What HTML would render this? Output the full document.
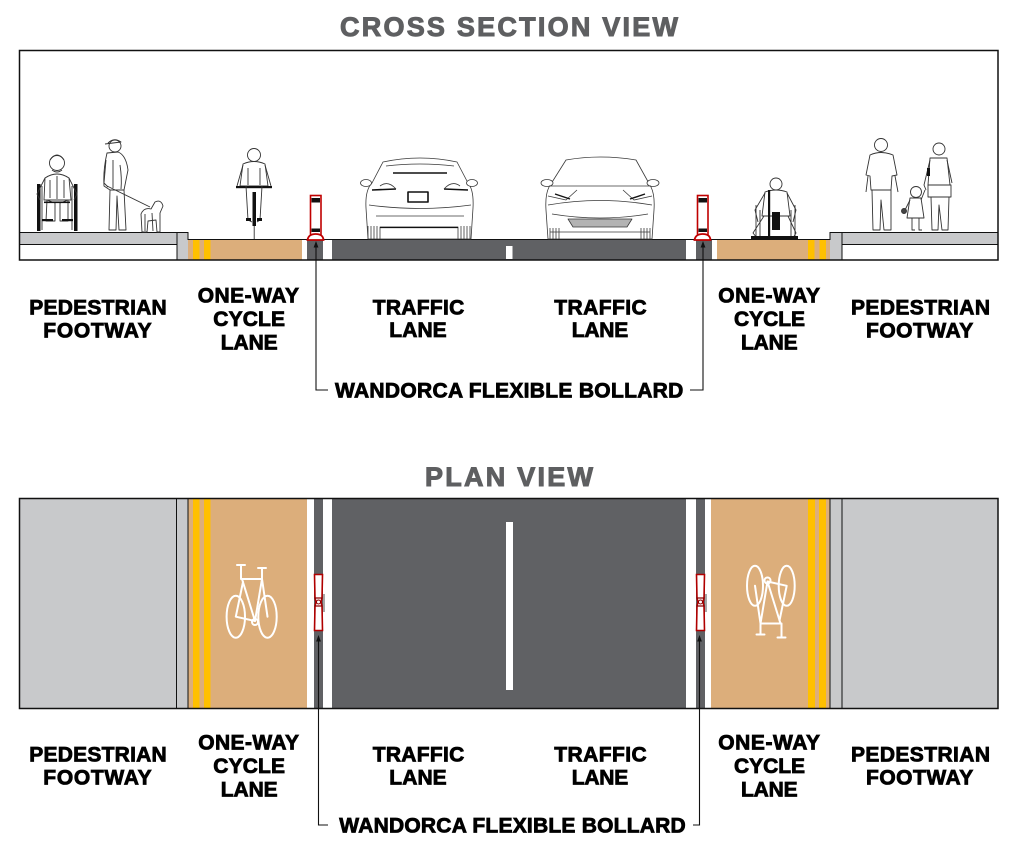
<!DOCTYPE html>
<html><head><meta charset="utf-8"><style>
html,body{margin:0;padding:0;background:#fff;}
svg{display:block;}
text{font-family:"Liberation Sans",Arial,sans-serif;font-weight:bold;}
</style></head><body>
<svg width="1020" height="851" viewBox="0 0 1020 851" xmlns="http://www.w3.org/2000/svg">
<rect width="1020" height="851" fill="#fff"/>

<!-- TITLES -->
<text x="340" y="36" font-size="27" fill="#5e5f61" stroke="#5e5f61" stroke-width="1" textLength="338" lengthAdjust="spacing">CROSS SECTION VIEW</text>
<text x="425" y="486" font-size="27" fill="#5e5f61" stroke="#5e5f61" stroke-width="1" textLength="168" lengthAdjust="spacing">PLAN VIEW</text>

<!-- ============ CROSS SECTION ============ -->
<rect x="19" y="232" width="158" height="12" fill="#c8c9cb"/>
<rect x="177" y="232" width="11" height="28" fill="#c8c9cb"/>
<rect x="188" y="239" width="114" height="21" fill="#dcae7b"/>
<rect x="193" y="239" width="6.5" height="21" fill="#ffc000"/>
<rect x="204" y="239" width="6.5" height="21" fill="#ffc000"/>
<rect x="307" y="239" width="16" height="21" fill="#606164"/>
<rect x="332" y="239" width="354" height="21" fill="#606164"/>
<rect x="506" y="246" width="6.5" height="13" fill="#fff"/>
<rect x="696" y="239" width="16" height="21" fill="#606164"/>
<rect x="717" y="239" width="113" height="21" fill="#dcae7b"/>
<rect x="808" y="239" width="6.5" height="21" fill="#ffc000"/>
<rect x="819.5" y="239" width="6.5" height="21" fill="#ffc000"/>
<rect x="830" y="232" width="12" height="28" fill="#c8c9cb"/>
<rect x="842" y="232" width="156" height="12" fill="#c8c9cb"/>
<g stroke="#111" stroke-width="1" fill="none">
<path d="M19 232.5 H188 V239.5 H830 V232.5 H998"/>
<path d="M19 244.5 H177"/>
<path d="M177 232.5 V260"/>
<path d="M842 244.5 H998"/>
<path d="M842 232.5 V260"/>
</g>

<!-- bollards cross section -->
<g>
<rect x="310.5" y="195.5" width="10.5" height="40" fill="#fff" stroke="#c00000" stroke-width="1.6"/>
<rect x="311.5" y="198" width="8.5" height="4.5" fill="#111"/>
<rect x="311.5" y="228.5" width="8.5" height="3.5" fill="#111"/>
<path d="M307.5 240 Q308.5 234 315.7 234 Q323 234 323.5 240 Z" fill="#fff" stroke="#c00000" stroke-width="1.8"/>
</g>
<g>
<rect x="697.5" y="195.5" width="10.5" height="40" fill="#fff" stroke="#c00000" stroke-width="1.6"/>
<rect x="698.5" y="198" width="8.5" height="4.5" fill="#111"/>
<rect x="698.5" y="228.5" width="8.5" height="3.5" fill="#111"/>
<path d="M694.5 240 Q695.5 234 702.7 234 Q710 234 710.5 240 Z" fill="#fff" stroke="#c00000" stroke-width="1.8"/>
</g>

<!-- PEOPLE -->
<g stroke="#333" stroke-width="0.9" fill="#fff" stroke-linejoin="round">
<!-- wheelchair user -->
<rect x="37" y="184" width="3.5" height="47" fill="#111" stroke="none"/>
<rect x="74" y="184" width="3.5" height="47" fill="#111" stroke="none"/>
<path d="M42 186 V230 M72 186 V230" fill="none"/>
<path d="M45 178 Q57 170 69 178 L71 200 L44 200 Z"/>
<path d="M50 180 V198 M64 180 V198 M57 176 V199" fill="none"/>
<path d="M45 178 L37 194 L40 200 M69 178 L77 194 L74 200" fill="none"/>
<circle cx="57" cy="163" r="7.5"/>
<path d="M50 160 Q57 150 64 160 M52 170 Q57 174 62 170" fill="none"/>
<path d="M47 200 L46 221 L55 221 L55 203 Z M60 203 L60 221 L68 221 L68 200 Z"/>
<rect x="42" y="219" width="11" height="2.2" fill="#111" stroke="none"/>
<rect x="62" y="219" width="11" height="2.2" fill="#111" stroke="none"/>
<rect x="44" y="201.5" width="26" height="1.6" fill="#111" stroke="none"/>

<!-- standing man -->
<path d="M107 153 Q103 170 104 186 L110 190 L124 190 L128 170 Q126 155 118 152 Z"/>
<path d="M110 190 L109 230 L116 230 L117 196 L119 230 L126 230 L124 190 Z"/>
<path d="M113 160 V188 M120 165 Q122 178 121 189" fill="none"/>
<circle cx="115" cy="146" r="6"/>
<path d="M108 143 Q114 137 121 142 L105 144" fill="none"/>
<path d="M106 160 L104 183 L108 187" fill="none"/>
<path d="M107 186 L150 207" fill="none"/>
<!-- dog -->
<path d="M142 232 L141 214 Q144 207 151 209 L155 202 Q161 199 163 206 L160 213 L160 232 L157 232 L156 220 L148 221 L147 232 Z"/>
<path d="M145 214 V231 M152 213 L153 231" fill="none"/>

<!-- cyclist -->
<rect x="252.5" y="192" width="3.5" height="34" fill="#111" stroke="none"/>
<path d="M254.2 226 V239" fill="none"/>
<path d="M243 164 Q254 159 265 164 L268 186 L240 186 Z"/>
<path d="M248 168 V185 M260 168 V185" fill="none"/>
<path d="M243 165 L237 186 M265 165 L271 186" fill="none"/>
<rect x="236" y="186" width="36" height="2.2" fill="#111" stroke="none"/>
<path d="M246 186 L248 220 L252 222 M262 186 L260 220 L257 222" fill="none"/>
<rect x="246" y="218" width="5" height="3" fill="#111" stroke="none"/>
<rect x="257" y="218" width="5" height="3" fill="#111" stroke="none"/>
<circle cx="254" cy="155" r="6.5"/>

<!-- handcyclist -->
<path d="M765 192 Q776 188 787 192 L790 216 L762 216 Z"/>
<path d="M765 193 L755 210 L758 222 M787 193 L796 210 L793 222" fill="none"/>
<path d="M764 216 L753 233 L757 238 M788 216 L796 233 L793 238" fill="none"/>
<rect x="768" y="190" width="2.2" height="48" fill="#111" stroke="none"/>
<rect x="772" y="212" width="8" height="18" fill="#111" stroke="none"/>
<path d="M756 205 V236 M795 205 V236 M760 210 V236 M791 210 V236" fill="none"/>
<rect x="751" y="236" width="47" height="3" fill="#111" stroke="none"/>
<circle cx="776" cy="184" r="6"/>

<!-- walking man -->
<path d="M870 155 Q881 150 893 155 L897 175 L892 176 L891 190 L871 190 L870 176 L866 175 Z"/>
<path d="M868 176 L866 192 M895 176 L898 192" fill="none"/>
<path d="M872 190 L873 230 L880 230 L881 200 L884 230 L891 230 L891 190 Z"/>
<circle cx="881" cy="145" r="6.5"/>
<!-- woman -->
<path d="M930 158 L947 158 L950 185 L928 185 Z"/>
<path d="M928 185 L951 185 L951 197 L928 197 Z"/>
<path d="M930 160 L924 185 L926 190 M947 160 L952 183" fill="none"/>
<path d="M931 197 L932 230 L938 230 L939 205 L942 230 L948 230 L949 197 Z"/>
<circle cx="939" cy="149" r="6"/>
<rect x="927" y="168" width="3" height="8" fill="#111" stroke="none"/>
<!-- child -->
<path d="M910 198 L921 198 L924 218 L907 218 Z"/>
<path d="M921 200 L925 190 M910 200 L905 210" fill="none"/>
<path d="M912 218 L912 230 L915 230 M919 218 L919 230 L922 230" fill="none"/>
<circle cx="916" cy="192" r="5.5"/>
<circle cx="904" cy="211" r="2.5" fill="#444"/>
</g>

<!-- CARS -->
<g stroke="#3a3a3a" stroke-width="0.8" fill="#fff" stroke-linejoin="round">
<path d="M383 162 Q420 154 457 162 L468 183 Q474 190 473 208 L471 239 L368 239 L366 208 Q365 190 372 183 Z"/>
<ellipse cx="366" cy="183" rx="5.5" ry="3.5"/>
<ellipse cx="472" cy="183" rx="5.5" ry="3.5"/>
<path d="M393 173 H447" stroke="#111" stroke-width="1.4" fill="none"/>
<path d="M386 166 Q420 162 454 166" fill="none"/>
<path d="M372 190 L396 189 M444 189 L468 190" stroke="#111" stroke-width="1.6" fill="none"/>
<path d="M380 186 Q388 180 396 189 M460 186 Q452 180 444 189" fill="none"/>
<path d="M369 205 Q420 212 471 205" fill="none"/>
<path d="M376 216 H464" fill="none"/>
<rect x="408" y="192" width="20" height="10" stroke="#111" stroke-width="1.6"/>
<rect x="380" y="227" width="78" height="12"/>
<path d="M380 227.5 H458" stroke="#111" stroke-width="1.3"/>
<path d="M368 226 V239 M371 226 V239 M374 226 V239 M377 226 V239 M461 226 V239 M464 226 V239 M467 226 V239 M470 226 V239" fill="none"/>

<path d="M566 160 Q600 154 636 160 L651 187 Q655 195 654 210 L652 239 L548 239 L546 210 Q545 195 549 187 Z"/>
<ellipse cx="547" cy="183" rx="6" ry="3.5"/>
<ellipse cx="653" cy="183" rx="6" ry="3.5"/>
<path d="M549 186 H651" fill="none"/>
<path d="M548 196 L566 200 L577 190 M652 196 L634 200 L623 190" fill="none"/>
<path d="M555 194 L570 199 M645 194 L630 199" stroke="#111" stroke-width="1.4" fill="none"/>
<path d="M548 205 Q600 196 652 205" fill="none"/>
<path d="M552 214 Q600 222 648 214" fill="none"/>
<path d="M568 219 L632 219 L627 227 L573 227 Z" fill="#b3b3b3"/>
<path d="M550 232 H650" fill="none"/>
<path d="M550 228 V239 M553 228 V239 M556 228 V239 M559 228 V239 M641 228 V239 M644 228 V239 M647 228 V239 M650 228 V239" fill="none"/>
</g>

<rect x="19.5" y="50.5" width="978.5" height="209.5" fill="none" stroke="#111" stroke-width="1.5"/>

<g stroke="#111" stroke-width="1.1" fill="none">
<path d="M316 246 V390 H328"/>
<path d="M703 246 V390 H690"/>
</g>
<polygon points="316,241 313.6,247.5 318.4,247.5" fill="#111"/>
<polygon points="703,241 700.6,247.5 705.4,247.5" fill="#111"/>

<g font-size="21" fill="#000" stroke="#000" stroke-width="0.8">
<text x="29.3" y="314.3" textLength="137.4" lengthAdjust="spacing">PEDESTRIAN</text>
<text x="43.3" y="337.7" textLength="108.4" lengthAdjust="spacing">FOOTWAY</text>
<text x="197.7" y="302.3" textLength="101.3" lengthAdjust="spacing">ONE-WAY</text>
<text x="213.3" y="326" textLength="71.7" lengthAdjust="spacing">CYCLE</text>
<text x="220.7" y="349.3" textLength="57" lengthAdjust="spacing">LANE</text>
<text x="372.7" y="314.3" textLength="91.6" lengthAdjust="spacing">TRAFFIC</text>
<text x="389.3" y="336.9" textLength="57.4" lengthAdjust="spacing">LANE</text>
<text x="554.3" y="314.3" textLength="92.4" lengthAdjust="spacing">TRAFFIC</text>
<text x="571.7" y="336.9" textLength="56.6" lengthAdjust="spacing">LANE</text>
<text x="718.3" y="302.3" textLength="101.7" lengthAdjust="spacing">ONE-WAY</text>
<text x="734" y="326" textLength="71" lengthAdjust="spacing">CYCLE</text>
<text x="741" y="349.3" textLength="56.7" lengthAdjust="spacing">LANE</text>
<text x="851" y="314.3" textLength="139" lengthAdjust="spacing">PEDESTRIAN</text>
<text x="866" y="337.7" textLength="107.3" lengthAdjust="spacing">FOOTWAY</text>
<text x="335" y="397.3" textLength="348.3" lengthAdjust="spacing">WANDORCA FLEXIBLE BOLLARD</text>
</g>

<!-- ============ PLAN VIEW ============ -->
<rect x="19" y="498" width="157" height="211" fill="#c8c9cb"/>
<rect x="176" y="498" width="12" height="211" fill="#c8c9cb"/>
<rect x="188" y="498" width="119" height="211" fill="#dcae7b"/>
<rect x="193" y="498" width="6.5" height="211" fill="#ffc000"/>
<rect x="204" y="498" width="6.5" height="211" fill="#ffc000"/>
<rect x="314" y="498" width="9" height="211" fill="#606164"/>
<rect x="332" y="498" width="354" height="211" fill="#606164"/>
<rect x="506" y="522" width="7" height="168" fill="#fff"/>
<rect x="696" y="498" width="9" height="211" fill="#606164"/>
<rect x="711" y="498" width="119" height="211" fill="#dcae7b"/>
<rect x="808" y="498" width="7" height="211" fill="#ffc000"/>
<rect x="819" y="498" width="7" height="211" fill="#ffc000"/>
<rect x="830" y="498" width="12" height="211" fill="#c8c9cb"/>
<rect x="842" y="498" width="156" height="211" fill="#c8c9cb"/>
<g stroke="#111" stroke-width="1">
<path d="M176.5 498 V709 M188 498 V709 M830 498 V709 M842 498 V709" fill="none"/>
</g>

<g stroke="#fff" stroke-width="2" fill="none" stroke-linecap="round" stroke-linejoin="round">
<ellipse cx="235.8" cy="616.7" rx="9.2" ry="21"/>
<ellipse cx="267.5" cy="616.7" rx="9.2" ry="21"/>
<path d="M237 565 H245"/>
<path d="M241 565 V579 H262"/>
<path d="M258 568 H266 M262 568 V579 L267.5 616.7"/>
<path d="M242 579 L255 621 L262 579"/>
<path d="M243 582 L235.8 616.7 L255 621"/>
<circle cx="255" cy="622" r="3"/>
</g>
<g transform="translate(771.5,602.5) rotate(180) translate(-251,-600)" stroke="#fff" stroke-width="2" fill="none" stroke-linecap="round" stroke-linejoin="round">
<ellipse cx="235.8" cy="616.7" rx="8" ry="20"/>
<ellipse cx="267.5" cy="616.7" rx="8" ry="20"/>
<path d="M237 565 H245"/>
<path d="M241 565 V579 H262"/>
<path d="M258 568 H266 M262 568 V579 L267.5 616.7"/>
<path d="M242 579 L255 621 L262 579"/>
<path d="M243 582 L235.8 616.7 L255 621"/>
<circle cx="255" cy="622" r="3"/>
</g>

<g>
<path d="M314.5 574.5 H322.5 L322 598 L321 602 L322 606 L322.5 630.5 H314.5 L315 606 L316 602 L315 598 Z" fill="#fff" stroke="#b00000" stroke-width="1.6"/>
<path d="M314.5 598 H322.5 M314.5 606 H322.5" stroke="#8a0000" stroke-width="1.2"/>
<circle cx="318.5" cy="602" r="2" fill="#fff" stroke="#8a0000" stroke-width="1"/>
<path d="M324 594 V612" stroke="#222" stroke-width="0.8"/>
</g>
<g>
<path d="M696.5 574.5 H704.5 L704 598 L703 602 L704 606 L704.5 630.5 H696.5 L697 606 L698 602 L697 598 Z" fill="#fff" stroke="#b00000" stroke-width="1.6"/>
<path d="M696.5 598 H704.5 M696.5 606 H704.5" stroke="#8a0000" stroke-width="1.2"/>
<circle cx="700.5" cy="602" r="2" fill="#fff" stroke="#8a0000" stroke-width="1"/>
<path d="M706 594 V612" stroke="#222" stroke-width="0.8"/>
</g>

<rect x="19.5" y="498.5" width="978.5" height="210" fill="none" stroke="#111" stroke-width="1.5"/>

<g stroke="#111" stroke-width="1.1" fill="none">
<path d="M318.5 640 V825 H328"/>
<path d="M699.5 640 V825 H693"/>
</g>
<polygon points="318.5,635 316.1,641.5 320.9,641.5" fill="#111"/>
<polygon points="699.5,635 697.1,641.5 701.9,641.5" fill="#111"/>

<g font-size="21" fill="#000" stroke="#000" stroke-width="0.8">
<text x="29.3" y="761.3" textLength="137.4" lengthAdjust="spacing">PEDESTRIAN</text>
<text x="43.3" y="784.7" textLength="108.4" lengthAdjust="spacing">FOOTWAY</text>
<text x="198.3" y="749.5" textLength="100.7" lengthAdjust="spacing">ONE-WAY</text>
<text x="213.3" y="772.8" textLength="71.7" lengthAdjust="spacing">CYCLE</text>
<text x="220.7" y="796.5" textLength="57" lengthAdjust="spacing">LANE</text>
<text x="372.7" y="761.3" textLength="91.6" lengthAdjust="spacing">TRAFFIC</text>
<text x="389.3" y="784.7" textLength="57.4" lengthAdjust="spacing">LANE</text>
<text x="554.3" y="761.3" textLength="92.4" lengthAdjust="spacing">TRAFFIC</text>
<text x="571.7" y="784.7" textLength="56.6" lengthAdjust="spacing">LANE</text>
<text x="718.3" y="749.5" textLength="101.7" lengthAdjust="spacing">ONE-WAY</text>
<text x="734" y="772.8" textLength="71" lengthAdjust="spacing">CYCLE</text>
<text x="741" y="796.5" textLength="56.7" lengthAdjust="spacing">LANE</text>
<text x="851" y="761.3" textLength="139" lengthAdjust="spacing">PEDESTRIAN</text>
<text x="866" y="784.7" textLength="107.3" lengthAdjust="spacing">FOOTWAY</text>
<text x="339.3" y="832.3" textLength="346.4" lengthAdjust="spacing">WANDORCA FLEXIBLE BOLLARD</text>
</g>
</svg>
</body></html>
